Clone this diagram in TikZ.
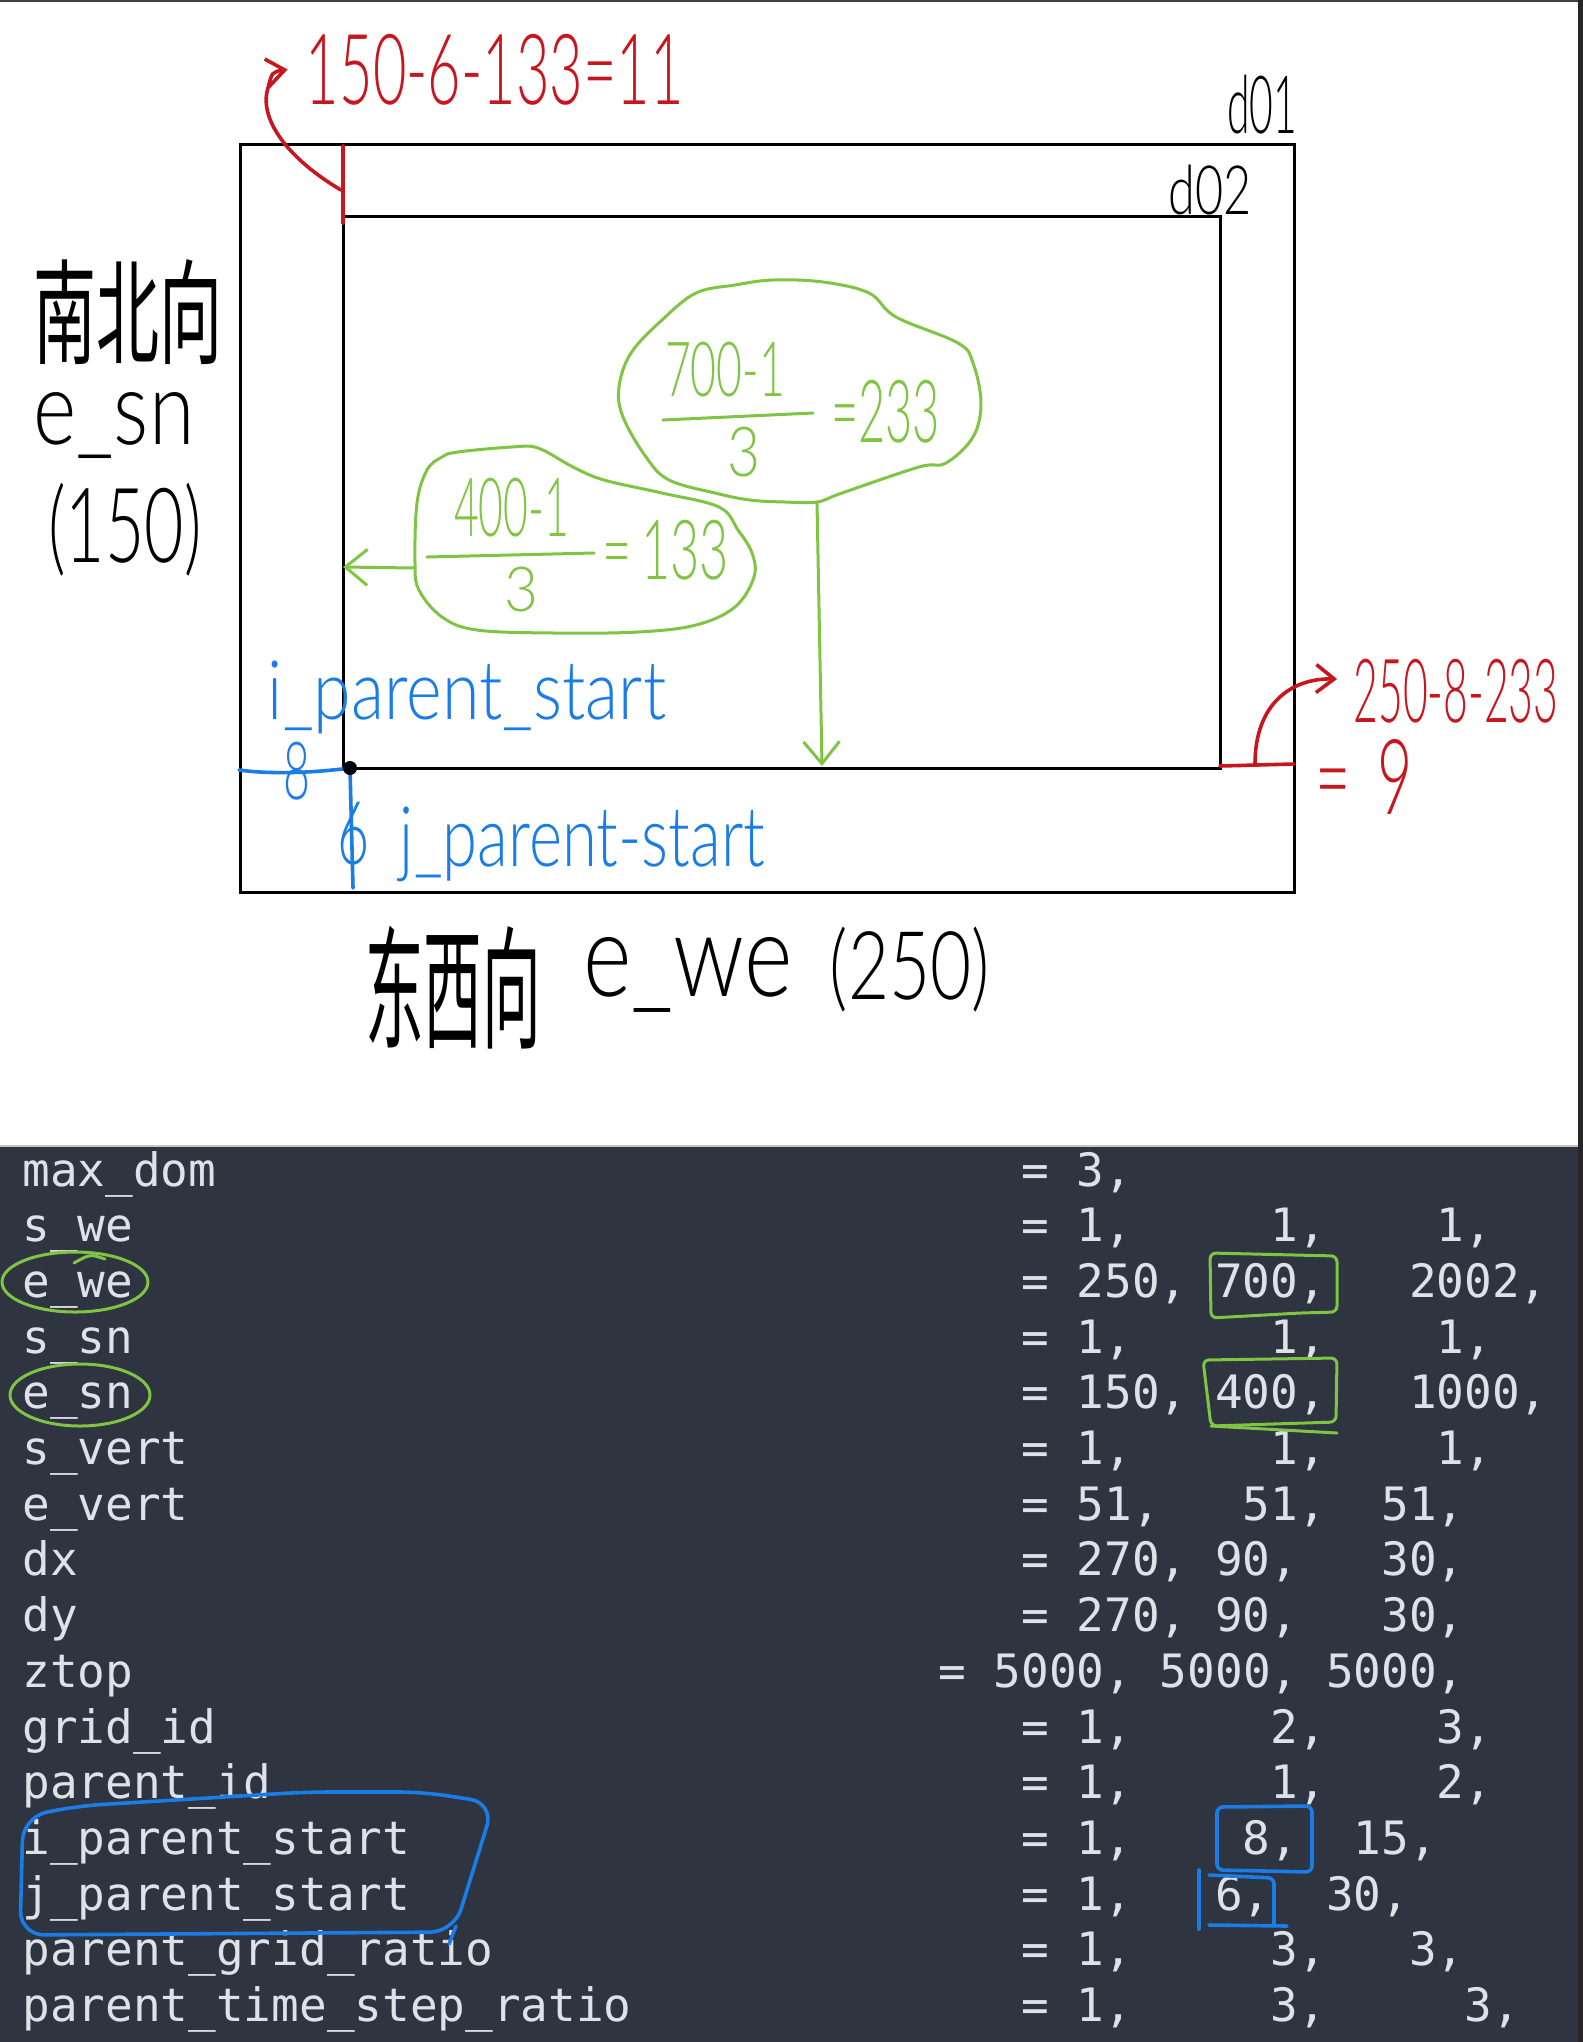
\documentclass[tikz,border=0pt]{standalone}
\usepackage{fontspec}
\usepackage{graphicx}
\usepackage{tikz}
\usetikzlibrary{arrows.meta}
\setmonofont{DejaVu Sans Mono}
\newfontfamily\handfont{Lato Light}
\newfontfamily\cjk{Noto Sans CJK SC}
\definecolor{penred}{RGB}{200,22,30}
\definecolor{pengreen}{RGB}{128,196,68}
\definecolor{penblue}{RGB}{26,124,230}
\definecolor{termbg}{RGB}{46,52,64}
\definecolor{termfg}{RGB}{222,226,232}
\newdimen\pxu \pxu=0.5pt
\newcommand{\handw}[3]{\resizebox*{#1\pxu}{#2\pxu}{#3}}
\tikzset{>={Straight Barb[length=9pt,width=14pt]}}
\tikzset{
  domainbox/.style={draw=black, line width=1.5pt},
  redpen/.style={draw=penred, line width=1.8pt, line cap=round, line join=round},
  bluepen/.style={draw=penblue, line width=1.8pt, line cap=round, line join=round},
  greenpen/.style={draw=pengreen, line width=1.5pt, line cap=round, line join=round},
  inkblack/.style={font=\handfont, inner sep=0pt, text=black},
  redtext/.style={inkblack, text=penred},
  bluetext/.style={inkblack, text=penblue},
  greentext/.style={inkblack, text=pengreen},
  cornerdot/.style={circle, fill=black, inner sep=0pt, minimum size=7pt},
  termkey/.style={anchor=base west, inner sep=0pt, text=termfg, font=\ttfamily\fontsize{23}{28}\selectfont},
  bigtip/.style={-{Straight Barb[length=11pt,width=18pt]}}
}

\begin{document}
\begin{tikzpicture}[x=0.5pt, y=-0.5pt]
  \useasboundingbox (0,0) rectangle (1583,2042);
  \fill[white] (0,0) rectangle (1583,1146);
  \fill[termbg] (0,1146) rectangle (1583,2042);
  \draw[gray!45, line width=0.6pt] (0,1146) -- (1578,1146);
  \fill[black!75] (0,0) rectangle (1583,2);
  \fill[black!85] (1578,0) rectangle (1583,2042);

  % the two domains
  \draw[domainbox] (240,144) rectangle (1294,892);
  \draw[domainbox] (343,216) rectangle (1220,768);
  \node[inkblack] (lbl01) at (1262,105) {\handw{70}{59}{d01}};
  \node[inkblack] (lbl02) at (1210,190) {\handw{83}{50}{d02}};

  % axis labels
  \node[inkblack] (sn1) at (128,312) {\handw{189}{105}{\cjk 南北向}};
  \node[inkblack] (sn2) at (114,426) {\handw{161}{66}{e\_sn}};
  \node[inkblack] (sn3) at (125,530) {\handw{153}{93}{(150)}};
  \node[inkblack] (we1) at (453,988) {\handw{176}{123}{\cjk 东西向}};
  \node[inkblack] (we2) at (688,975) {\handw{209}{75}{e\_we}};
  \node[inkblack] (we3) at (910,970) {\handw{160}{85}{(250)}};

  % red: the gaps to the north and east
  \draw[redpen] (343,146) -- (343,223);
  \node[redtext] (calcsn) at (495,69.5) {\handw{378}{71}{150-6-133=11}};
  \coordinate (gapsn) at (341,190);
  \draw[redpen,->] (gapsn) .. controls (290,160) and (258,120) .. (268,88) .. controls (272,72) .. ([xshift=-9pt]calcsn.west);
  \draw[redpen] (1220,766) -- (1294,764);
  \node[redtext] (calcwe) at (1456,691) {\handw{205}{64}{250-8-233}};
  \node[redtext] (calcwe2) at (1364,777) {\handw{98}{75}{=\hspace{0.45em}9}};
  \coordinate (gapwe) at (1255,764);
  \draw[redpen,->] (gapwe) .. controls (1255,705) and (1290,678) .. ([xshift=-8pt,yshift=6pt]calcwe.west);

  % blue: start of the nest
  \coordinate (cpt) at (350,768);
  \coordinate (ileft) at (239,770);
  \coordinate (jbottom) at (353,888);
  \draw[bluepen] (ileft) .. controls (275,775) and (320,772) .. (cpt);
  \draw[bluepen] (cpt) -- (jbottom);
  \node[cornerdot] (dot) at (cpt) {};
  \node[bluetext] (ilen) at (296.5,771) {\handw{27}{58}{8}};
  \node[bluetext] (jlen) at (354,833.5) {\handw{32}{63}{6}};
  \node[bluetext] (ilabel) at (467,697.5) {\handw{398}{73}{i\_parent\_start}};
  \node[bluetext] (jlabel) at (582.5,844.5) {\handw{365}{75}{j\_parent-start}};

  % green: size of d02
  \draw[greenpen] plot[smooth cycle, tension=0.6] coordinates {(817,502) (842,493) (919,467) (946,463) (973,437) (981,403) (973,363) (958,343) (896,317) (869,293) (823,282) (773,280) (735,285) (696,293) (662,320) (631,353) (619,387) (623,417) (646,457) (669,480) (715,493) (750,500) (785,502)};
  \node[greentext] (num1) at (725,369.5) {\handw{120}{55}{700-1}};
  \draw[greenpen] (663,420) -- (813,413);
  \node[greentext] (den1) at (743.5,452) {\handw{33}{50}{3}};
  \node[greentext] (res1) at (885.5,411.5) {\handw{109}{63}{=233}};
  \draw[greenpen] plot[smooth cycle, tension=0.6] coordinates {(458,452) (512,447) (538,448) (573,467) (604,480) (662,493) (719,507) (738,530) (752,553) (754,577) (735,607) (696,625) (638,632) (554,633) (477,630) (442,617) (419,590) (415,563) (417,503) (427,470) (442,457)};
  \node[greentext] (num2) at (511.5,507.5) {\handw{115}{59}{400-1}};
  \draw[greenpen] (427,557) -- (594,553);
  \node[greentext] (den2) at (521,589.5) {\handw{34}{45}{3}};
  \node[greentext] (res2) at (665.5,550) {\handw{127}{60}{=\hspace{0.2em}133}};
  \coordinate (stem1) at (817,502);
  \coordinate (hit1) at (822,766);
  \draw[greenpen, bigtip] (stem1) -- (hit1);
  \coordinate (tail2) at (415,568);
  \coordinate (hit2) at (343,567);
  \draw[greenpen, bigtip] (tail2) -- (hit2);

  % namelist
  \foreach \k/\v/\vx [count=\i] in {
      max\_dom/{=~3,}/1021,
      s\_we/{=~1,~~~~~1,~~~~1,}/1021,
      e\_we/{=~250,~700,~~~2002,}/1021,
      s\_sn/{=~1,~~~~~1,~~~~1,}/1021,
      e\_sn/{=~150,~400,~~~1000,}/1021,
      s\_vert/{=~1,~~~~~1,~~~~1,}/1021,
      e\_vert/{=~51,~~~51,~~51,}/1021,
      dx/{=~270,~90,~~~30,}/1021,
      dy/{=~270,~90,~~~30,}/1021,
      ztop/{=~5000,~5000,~5000,}/938,
      grid\_id/{=~1,~~~~~2,~~~~3,}/1021,
      parent\_id/{=~1,~~~~~1,~~~~2,}/1021,
      i\_parent\_start/{=~1,~~~~8,~~15,}/1021,
      j\_parent\_start/{=~1,~~~6,~~30,}/1021,
      parent\_grid\_ratio/{=~1,~~~~~3,~~~3,}/1021,
      parent\_time\_step\_ratio/{=~1,~~~~~3,~~~~~3,}/1021} {
    \node[termkey] (key\i) at (22,{1186+(\i-1)*55.7}) {\k};
    \node[termkey] (val\i) at (\vx,{1186+(\i-1)*55.7}) {\v};
  }

  % marks on the namelist
  \draw[greenpen] (75,1282) ellipse [x radius=73, y radius=30];
  \draw[greenpen] (74,1263) .. controls (90,1254) .. (105,1259);
  \draw[greenpen] (80,1395) ellipse [x radius=70, y radius=31];
  \draw[greenpen, rounded corners=3pt] (1210,1253) -- (1337,1256) -- (1337,1312) -- (1300,1313) -- (1211,1318) -- cycle;
  \draw[greenpen, rounded corners=3pt] (1203,1360) -- (1337,1358) -- (1336,1422) -- (1211,1426) -- cycle;
  \draw[greenpen] (1211,1426) -- (1337,1433);
  \draw[bluepen, rounded corners=12pt] (23,1817) -- (77,1806) -- (306,1792) -- (423,1792) -- (494,1803) -- (454,1932) -- (20,1935) -- cycle;
  \draw[bluepen] (456,1926) -- (449,1944);
  \draw[bluepen, rounded corners=3pt] (1217,1807) -- (1312,1806) -- (1312,1872) -- (1217,1870) -- cycle;
  \draw[bluepen, rounded corners=3pt] (1199,1870) -- (1199,1929);
  \draw[bluepen, rounded corners=3pt] (1209,1875) -- (1274,1878) -- (1274,1926);
  \draw[bluepen] (1209,1925) -- (1287,1926);
\end{tikzpicture}
\end{document}
